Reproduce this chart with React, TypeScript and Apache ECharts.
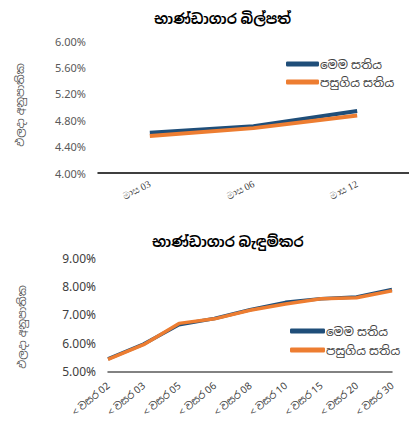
import React, { useEffect, useRef } from "react";
import * as echarts from "echarts";

const billCategories = ["මාස 03", "මාස 06", "මාස 12"];
const billThisWeek = [4.61, 4.71, 4.94];
const billLastWeek = [4.56, 4.68, 4.87];

const bondCategories = ["< වසර 02", "< වසර 03", "< වසර 05", "< වසර 06", "< වසර 08", "< වසර 10", "< වසර 15", "< වසර 20", "< වසර 30"];
const bondThisWeek = [5.45, 5.97, 6.65, 6.87, 7.18, 7.44, 7.57, 7.63, 7.89];
const bondLastWeek = [5.43, 5.95, 6.70, 6.86, 7.16, 7.38, 7.57, 7.60, 7.85];

const seriesNames = ["මෙම සතිය", "පසුගිය සතිය"];
const billTitle = "භාණ්ඩාගාර බිල්පත්";
const bondTitle = "භාණ්ඩාගාර බැඳුම්කර";
const yName = "ඵලදා අනුපාතික";

const BLUE = "#1F4E79";
const ORANGE = "#ED7D31";
const FONT = "'Noto Sans', 'Noto Sans Sinhala', sans-serif";

export default function App() {
  const ref = useRef<HTMLDivElement>(null);
  useEffect(() => {
    if (!ref.current) return;
    const chart = echarts.init(ref.current, null, { renderer: "svg" });
    const pct = (v: number) => v.toFixed(2) + "%";
    chart.setOption({
      animation: false,
      backgroundColor: "#fff",
      textStyle: { fontFamily: FONT },
      title: [
        { text: billTitle, left: 149, top: 6, textStyle: { fontSize: 14, fontWeight: "bold", color: "#000", fontFamily: FONT } },
        { text: bondTitle, left: 147, top: 229, textStyle: { fontSize: 14, fontWeight: "bold", color: "#000", fontFamily: FONT } },
      ],
      legend: [
        {
          orient: "vertical", left: 281, top: 53, itemGap: 6, itemWidth: 33, itemHeight: 5, icon: "roundRect",
          data: seriesNames, textStyle: { fontSize: 12, color: "#404040", padding: [0, 0, 0, -4] },
        },
        {
          orient: "vertical", left: 285, top: 320, itemGap: 7, itemWidth: 35, itemHeight: 5, icon: "roundRect",
          data: seriesNames, textStyle: { fontSize: 12, color: "#404040", padding: [0, 0, 0, -4] },
        },
      ],
      graphic: [
        { type: "text", x: 19, y: 105, rotation: Math.PI / 2, style: { text: yName, fontSize: 11, fill: "#595959", fontFamily: FONT, align: "center", verticalAlign: "middle" } },
        { type: "text", x: 21, y: 327, rotation: Math.PI / 2, style: { text: yName, fontSize: 11, fill: "#595959", fontFamily: FONT, align: "center", verticalAlign: "middle" } },
      ],
      grid: [
        { left: 98, width: 311, top: 41, height: 132 },
        { left: 108, width: 284, top: 258, height: 113.7 },
      ],
      xAxis: [
        {
          gridIndex: 0, type: "category", data: billCategories, boundaryGap: true,
          axisLine: { lineStyle: { color: "#000", width: 1.5 } }, axisTick: { show: false },
          axisLabel: { rotate: 27, fontSize: 10, color: "#404040", fontFamily: "'Liberation Serif', serif", margin: 10 },
        },
        {
          gridIndex: 1, type: "category", data: bondCategories, boundaryGap: false,
          axisLine: { lineStyle: { color: "#595959", width: 1.5 } }, axisTick: { show: false },
          axisLabel: { rotate: 40, fontSize: 10, color: "#404040", margin: 12 },
        },
      ],
      yAxis: [
        {
          gridIndex: 0, type: "value", min: 4, max: 6, interval: 0.4,
          axisLine: { show: false }, axisTick: { show: false }, splitLine: { show: false },
          axisLabel: { formatter: pct, fontSize: 11, color: "#595959", margin: 12 },
        },
        {
          gridIndex: 1, type: "value", min: 5, max: 9, interval: 1,
          axisLine: { show: false }, axisTick: { show: false }, splitLine: { show: false },
          axisLabel: { formatter: pct, fontSize: 12, color: "#404040", margin: 12 },
        },
      ],
      series: [
        { name: seriesNames[0], type: "line", xAxisIndex: 0, yAxisIndex: 0, data: billThisWeek, showSymbol: false, lineStyle: { color: BLUE, width: 4 }, itemStyle: { color: BLUE } },
        { name: seriesNames[1], type: "line", xAxisIndex: 0, yAxisIndex: 0, data: billLastWeek, showSymbol: false, lineStyle: { color: ORANGE, width: 4 }, itemStyle: { color: ORANGE } },
        { name: seriesNames[0], type: "line", xAxisIndex: 1, yAxisIndex: 1, data: bondThisWeek, showSymbol: false, lineStyle: { color: BLUE, width: 3.5 }, itemStyle: { color: BLUE } },
        { name: seriesNames[1], type: "line", xAxisIndex: 1, yAxisIndex: 1, data: bondLastWeek, showSymbol: false, lineStyle: { color: ORANGE, width: 3.5 }, itemStyle: { color: ORANGE } },
      ],
    });
    return () => chart.dispose();
  }, []);
  return <div ref={ref} style={{ position: "fixed", left: 0, top: 0, width: 409, height: 426 }} />;
}
